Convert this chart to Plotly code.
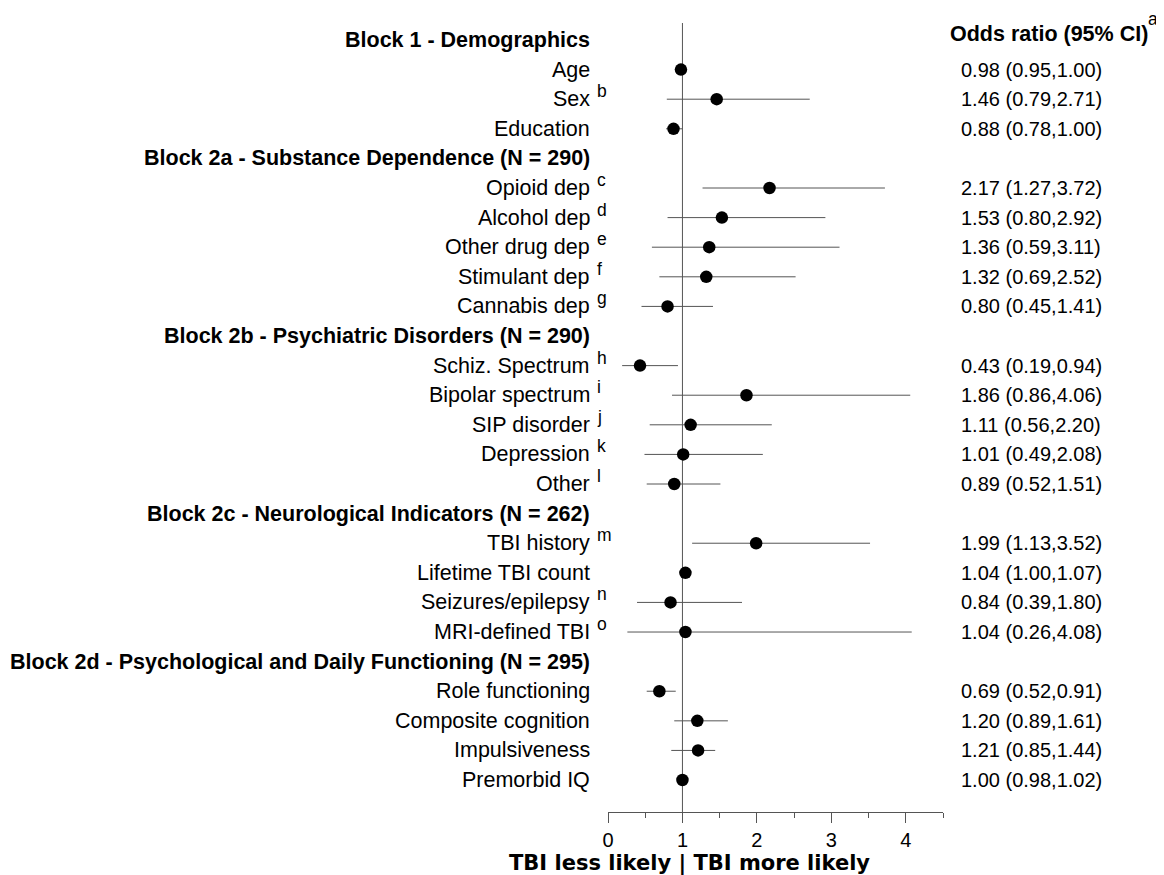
import plotly.graph_objects as go

labels = [
    "Block 1 - Demographics", "Age", "Sex", "Education",
    "Block 2a - Substance Dependence (N = 290)",
    "Opioid dep", "Alcohol dep", "Other drug dep", "Stimulant dep", "Cannabis dep",
    "Block 2b - Psychiatric Disorders (N = 290)",
    "Schiz. Spectrum", "Bipolar spectrum", "SIP disorder", "Depression", "Other",
    "Block 2c - Neurological Indicators (N = 262)",
    "TBI history", "Lifetime TBI count", "Seizures/epilepsy", "MRI-defined TBI",
    "Block 2d - Psychological and Daily Functioning (N = 295)",
    "Role functioning", "Composite cognition", "Impulsiveness", "Premorbid IQ",
]
superscripts = [
    "", "", "b", "",
    "",
    "c", "d", "e", "f", "g",
    "",
    "h", "i", "j", "k", "l",
    "",
    "m", "", "n", "o",
    "",
    "", "", "", "",
]
odds_ratio = [
    None, 0.98, 1.46, 0.88,
    None,
    2.17, 1.53, 1.36, 1.32, 0.80,
    None,
    0.43, 1.86, 1.11, 1.01, 0.89,
    None,
    1.99, 1.04, 0.84, 1.04,
    None,
    0.69, 1.20, 1.21, 1.00,
]
ci_low = [
    None, 0.95, 0.79, 0.78,
    None,
    1.27, 0.80, 0.59, 0.69, 0.45,
    None,
    0.19, 0.86, 0.56, 0.49, 0.52,
    None,
    1.13, 1.00, 0.39, 0.26,
    None,
    0.52, 0.89, 0.85, 0.98,
]
ci_high = [
    None, 1.00, 2.71, 1.00,
    None,
    3.72, 2.92, 3.11, 2.52, 1.41,
    None,
    0.94, 4.06, 2.20, 2.08, 1.51,
    None,
    3.52, 1.07, 1.80, 4.08,
    None,
    0.91, 1.61, 1.44, 1.02,
]
x_ticks = [0, 1, 2, 3, 4]
header_right = "Odds ratio (95% CI)"
header_sup = "a"
x_title = "TBI less likely | TBI more likely"

FONT = "Liberation Sans, Arial, sans-serif"
n = len(labels)
rows = list(range(n))

pts_y = [r for r, v in zip(rows, odds_ratio) if v is not None]
pts_x = [v for v in odds_ratio if v is not None]
err_plus = [h - v for v, h in zip(odds_ratio, ci_high) if v is not None]
err_minus = [v - l for v, l in zip(odds_ratio, ci_low) if v is not None]

fig = go.Figure()
fig.add_trace(go.Scatter(
    x=pts_x, y=pts_y, mode="markers",
    marker=dict(color="black", size=12.5),
    error_x=dict(type="data", symmetric=False, array=err_plus, arrayminus=err_minus,
                 color="#555555", thickness=1, width=0),
    showlegend=False, hoverinfo="skip", cliponaxis=False,
))

# reference line at OR = 1
fig.add_shape(type="line", x0=1, x1=1, xref="x", y0=0, y1=1, yref="paper",
              line=dict(color="#555555", width=1), layer="below")

annotations = []
for r, lab, sup, v, lo, hi in zip(rows, labels, superscripts, odds_ratio, ci_low, ci_high):
    header = v is None
    annotations.append(dict(
        x=0, xref="paper", y=r, yref="y", xanchor="right", yanchor="middle",
        xshift=-16, text=f"<b>{lab}</b>" if header else lab, showarrow=False,
        font=dict(family=FONT, size=21.5, color="black"),
    ))
    if sup:
        annotations.append(dict(
            x=0, xref="paper", y=r, yref="y", xanchor="left", yanchor="middle",
            xshift=-13, yshift=8, text=sup, showarrow=False,
            font=dict(family=FONT, size=17.5, color="black"),
        ))
    if not header:
        annotations.append(dict(
            x=1, xref="paper", y=r, yref="y", xanchor="left", yanchor="middle",
            xshift=16, text=f"{v:.2f} ({lo:.2f},{hi:.2f})", showarrow=False,
            font=dict(family=FONT, size=20, color="black"),
        ))

annotations.append(dict(
    x=1, xref="paper", y=0, yref="y", xanchor="left", yanchor="middle",
    xshift=5, yshift=6, text=f"<b>{header_right}</b>", showarrow=False,
    font=dict(family=FONT, size=21.5, color="black"),
))
annotations.append(dict(
    x=1, xref="paper", y=0, yref="y", xanchor="left", yanchor="middle",
    xshift=203, yshift=21, text=header_sup, showarrow=False,
    font=dict(family=FONT, size=17.5, color="black"),
))
annotations.append(dict(
    x=1.10, xref="x", y=0, yref="paper", xanchor="center", yanchor="middle",
    yshift=-51, text=f"<b>{x_title}</b>", showarrow=False,
    font=dict(family="DejaVu Sans, Verdana, sans-serif", size=21, color="black"),
))

# page body has an 8px default margin, so the figure is drawn 8px smaller
fig.update_layout(
    width=1156, height=867,
    margin=dict(l=600, r=221, t=15, b=63, pad=0),
    paper_bgcolor="white", plot_bgcolor="white",
    annotations=annotations,
    xaxis=dict(
        range=[0, 4.5], tickvals=x_ticks, ticktext=[str(t) for t in x_ticks],
        showgrid=False, zeroline=False, showline=True, linecolor="#555555", linewidth=1,
        ticks="outside", ticklen=10, tickwidth=1, tickcolor="#555555",
        tickfont=dict(family=FONT, size=20, color="black"),
        minor=dict(dtick=0.5, tick0=0, ticks="outside", ticklen=5, tickwidth=1,
                   tickcolor="#555555", showgrid=False),
        fixedrange=True,
    ),
    yaxis=dict(
        range=[26.08, -0.574], showgrid=False, zeroline=False, showline=False,
        showticklabels=False, ticks="", fixedrange=True,
    ),
)

fig.write_html("out.html")
